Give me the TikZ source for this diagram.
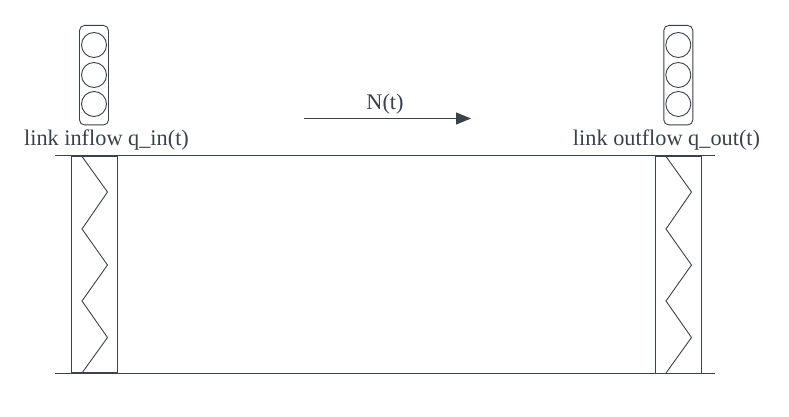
\documentclass[tikz,border=0pt]{standalone}
\usepackage{fontspec}
\setmainfont{Liberation Serif}
\usetikzlibrary{arrows.meta}
\definecolor{linecol}{HTML}{3A414A}
\tikzset{
    lamp/.style={draw=linecol,circle,inner sep=0pt,minimum size=25pt},
    housing/.style={draw=linecol,rounded corners=5pt,inner sep=0pt,minimum width=29pt,minimum height=99.5pt},
    detector/.style={draw=linecol,inner sep=0pt,minimum width=45.5pt,minimum height=216.5pt},
    caption/.style={text=linecol,inner sep=0pt,font=\fontsize{22.3}{26}\selectfont},
}
\begin{document}
\begin{tikzpicture}[x=1pt,y=-1pt,line width=0.9pt,draw=linecol]
    \useasboundingbox (0,0) rectangle (789,417);
    % road edges
    \coordinate (topL) at (55,155.7);
    \coordinate (topR) at (715,155.7);
    \coordinate (botL) at (55,373);
    \coordinate (botR) at (715,373);
    \draw (topL) -- (topR);
    \draw (botL) -- (botR);
    % signals
    \foreach \side/\xpos in {in/94, out/678.3} {
        \node[housing] (house\side) at (\xpos,75.2) {};
        \foreach \lamp/\ypos in {A/45, B/75, C/104} {
            \node[lamp] (lamp\side\lamp) at (\xpos,\ypos) {};
        }
    }
    % detectors
    \foreach \side/\xpos/\ypos in {in/94.5/264.3, out/678.5/264.8} {
        \node[detector] (det\side) at (\xpos,\ypos) {};
        \begin{scope}[xshift=\xpos pt-94.5pt]
            \coordinate (zigA\side) at (82,156.5);
            \coordinate (zigB\side) at (107.5,192);
            \coordinate (zigC\side) at (82,229);
            \coordinate (zigD\side) at (107.5,265);
            \coordinate (zigE\side) at (82,301);
            \coordinate (zigF\side) at (107.5,337.5);
            \coordinate (zigG\side) at (82,373);
            \draw (zigA\side) -- (zigB\side) -- (zigC\side) -- (zigD\side) -- (zigE\side) -- (zigF\side) -- (zigG\side);
        \end{scope}
    }
    % labels
    \node[caption] (inflow) at (106.5,140.5) {link inflow q\_in(t)};
    \node[caption] (outflow) at (666.5,140.5) {link outflow q\_out(t)};
    \node[caption] (count) at (385,104.5) {N(t)};
    % direction of travel
    \coordinate (flowA) at (304,118.5);
    \coordinate (flowB) at (471,118.5);
    \draw[-{Triangle[length=15pt,width=12pt]},fill=linecol] (flowA) -- (flowB);
\end{tikzpicture}
\end{document}
